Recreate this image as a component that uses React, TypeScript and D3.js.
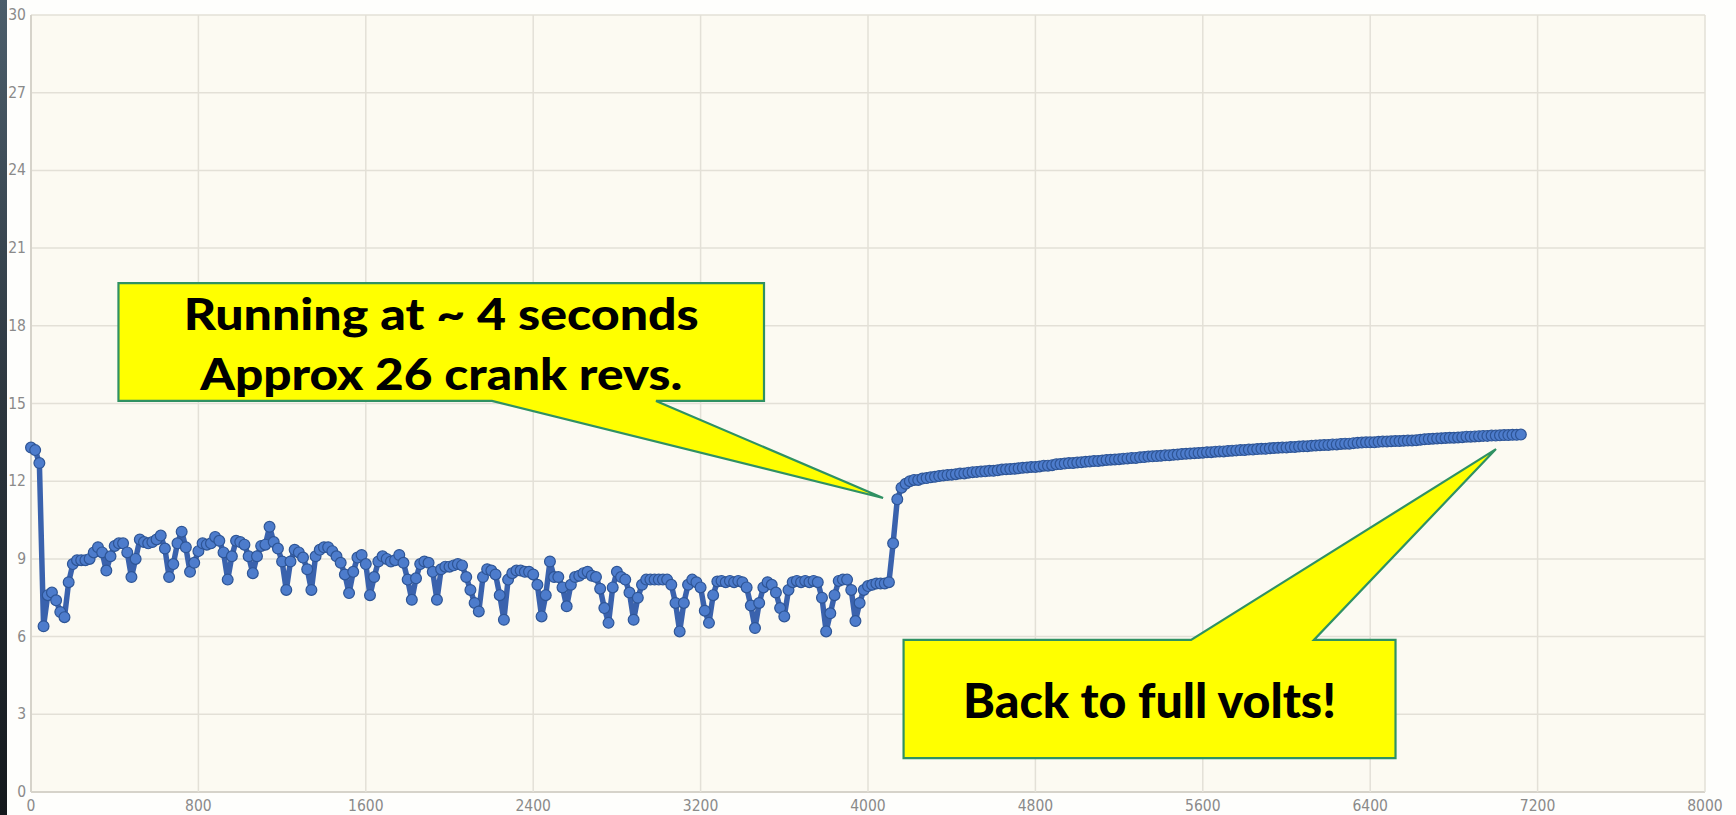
import React, { useEffect } from 'react';
import * as d3 from 'd3';

const WIDTH = 1736;
const HEIGHT = 815;

// Samples taken every 20 ms (x axis), battery volts (y axis)
const SAMPLE_STEP_MS = 20;
const VOLTS: number[] = [
  // 0 - 180
  13.3, 13.2, 12.7, 6.4, 7.6, 7.7, 7.4, 6.95, 6.75, 8.1,
  // 200 - 380
  8.8, 8.95, 8.95, 8.95, 9.0, 9.25, 9.45, 9.25, 8.55, 9.1,
  // 400 - 580
  9.5, 9.6, 9.6, 9.25, 8.3, 9.0, 9.75, 9.65, 9.6, 9.65,
  // 600 - 780
  9.75, 9.9, 9.4, 8.3, 8.8, 9.6, 10.05, 9.45, 8.5, 8.85,
  // 800 - 980
  9.3, 9.6, 9.55, 9.6, 9.85, 9.7, 9.25, 8.2, 9.1, 9.7,
  // 1000 - 1180
  9.65, 9.55, 9.1, 8.45, 9.1, 9.5, 9.55, 10.24, 9.65, 9.4,
  // 1200 - 1380
  8.9, 7.8, 8.9, 9.35, 9.25, 9.05, 8.6, 7.8, 9.1, 9.35,
  // 1400 - 1580
  9.45, 9.45, 9.3, 9.1, 8.85, 8.4, 7.68, 8.5, 9.05, 9.15,
  // 1600 - 1780
  8.8, 7.6, 8.3, 8.9, 9.1, 9.0, 8.9, 8.95, 9.15, 8.85,
  // 1800 - 1980
  8.2, 7.42, 8.25, 8.8, 8.9, 8.85, 8.5, 7.42, 8.6, 8.7,
  // 2000 - 2180
  8.7, 8.75, 8.8, 8.75, 8.3, 7.8, 7.3, 6.97, 8.3, 8.6,
  // 2200 - 2380
  8.55, 8.4, 7.6, 6.65, 8.2, 8.45, 8.55, 8.55, 8.5, 8.5,
  // 2400 - 2580
  8.4, 8.0, 6.78, 7.6, 8.9, 8.3, 8.3, 7.9, 7.17, 8.0,
  // 2600 - 2780
  8.3, 8.35, 8.45, 8.5, 8.35, 8.3, 7.85, 7.1, 6.53, 7.9,
  // 2800 - 2980
  8.5, 8.3, 8.2, 7.7, 6.65, 7.5, 8.0, 8.2, 8.2, 8.2,
  // 3000 - 3180
  8.2, 8.2, 8.2, 8.0, 7.3, 6.2, 7.3, 8.0, 8.2, 8.1,
  // 3200 - 3380
  7.9, 7.0, 6.53, 7.6, 8.13, 8.15, 8.1, 8.15, 8.1, 8.15,
  // 3400 - 3580
  8.1, 7.9, 7.2, 6.33, 7.3, 7.9, 8.1, 8.0, 7.7, 7.1,
  // 3600 - 3780
  6.78, 7.8, 8.1, 8.15, 8.1, 8.15, 8.1, 8.15, 8.1, 7.5,
  // 3800 - 3980
  6.2, 6.9, 7.6, 8.15, 8.2, 8.2, 7.8, 6.6, 7.3, 7.8,
  // 4000 - 4180
  7.95, 8.0, 8.05, 8.05, 8.05, 8.1, 9.6, 11.3, 11.75, 11.9,
  // 4200 - 4380
  12.0, 12.05, 12.05, 12.1, 12.12, 12.15, 12.17, 12.2, 12.22, 12.24,
  // 4400 - 4580
  12.25, 12.27, 12.3, 12.3, 12.33, 12.35, 12.36, 12.37, 12.38, 12.4,
  // 4600 - 4780
  12.4, 12.42, 12.45, 12.46, 12.47, 12.48, 12.5, 12.52, 12.53, 12.55,
  // 4800 - 4980
  12.55, 12.57, 12.6, 12.6, 12.62, 12.65, 12.66, 12.68, 12.7, 12.7,
  // 5000 - 5180
  12.72, 12.73, 12.75, 12.76, 12.78, 12.78, 12.8, 12.82, 12.83, 12.84,
  // 5200 - 5380
  12.85, 12.87, 12.88, 12.9, 12.9, 12.92, 12.93, 12.95, 12.96, 12.97,
  // 5400 - 5580
  12.98, 13.0, 13.0, 13.02, 13.03, 13.05, 13.06, 13.07, 13.08, 13.09,
  // 5600 - 5780
  13.1, 13.12, 13.12, 13.14, 13.15, 13.15, 13.17, 13.18, 13.19, 13.2,
  // 5800 - 5980
  13.2, 13.22, 13.22, 13.24, 13.25, 13.25, 13.27, 13.28, 13.29, 13.3,
  // 6000 - 6180
  13.3, 13.32, 13.32, 13.34, 13.35, 13.35, 13.37, 13.38, 13.39, 13.4,
  // 6200 - 6380
  13.4, 13.42, 13.42, 13.44, 13.45, 13.45, 13.47, 13.48, 13.49, 13.5,
  // 6400 - 6580
  13.5, 13.5, 13.52, 13.53, 13.53, 13.54, 13.55, 13.55, 13.56, 13.57,
  // 6600 - 6780
  13.57, 13.58, 13.6, 13.62, 13.63, 13.64, 13.65, 13.66, 13.67, 13.68,
  // 6800 - 6980
  13.68, 13.69, 13.7, 13.72, 13.72, 13.73, 13.74, 13.75, 13.75, 13.76,
  // 7000 - 7120
  13.76, 13.77, 13.78, 13.78, 13.79, 13.79, 13.8,
];

const X_TICKS = [0, 800, 1600, 2400, 3200, 4000, 4800, 5600, 6400, 7200, 8000];
const Y_TICKS = [0, 3, 6, 9, 12, 15, 18, 21, 24, 27, 30];

// Callout annotations, in data coordinates
const CALLOUT_RUNNING = {
  lines: ['Running at ~ 4 seconds', 'Approx 26 crank revs.'],
  lineLengths: [515, 482],
  box: { x0: 418, x1: 3503, yTop: 19.65, yBottom: 15.1 },
  base: [2203, 2987],
  tip: { x: 4072, y: 11.35 },
  side: 'bottom',
  fontSize: 44,
  baselines: [47, 107],
};
const CALLOUT_FULL = {
  lines: ['Back to full volts!'],
  lineLengths: [373],
  box: { x0: 4170, x1: 6521, yTop: 5.87, yBottom: 1.31 },
  base: [5544, 6131],
  tip: { x: 7001, y: 13.24 },
  side: 'top',
  fontSize: 47,
  baselines: [78],
};

const M = { left: 31, right: 1705, top: 15, bottom: 792 };

export default function App() {
  useEffect(() => {
    document.body.style.margin = '0';
    document.body.style.overflow = 'hidden';
  }, []);

  const x = d3.scaleLinear().domain([0, 8000]).range([M.left, M.right]);
  const y = d3.scaleLinear().domain([0, 30]).range([M.bottom, M.top]);

  const pts: [number, number][] = VOLTS.map((v, i) => [i * SAMPLE_STEP_MS, v]);
  const line = d3
    .line<[number, number]>()
    .x((d) => x(d[0]))
    .y((d) => y(d[1]));

  const calloutPath = (c: any) => {
    const X0 = x(c.box.x0), X1 = x(c.box.x1);
    const T = y(c.box.yTop), B = y(c.box.yBottom);
    const b0 = x(c.base[0]), b1 = x(c.base[1]);
    const tx = x(c.tip.x), ty = y(c.tip.y);
    const p = d3.path();
    if (c.side === 'bottom') {
      p.moveTo(X0, T);
      p.lineTo(X1, T);
      p.lineTo(X1, B);
      p.lineTo(b1, B);
      p.lineTo(tx, ty);
      p.lineTo(b0, B);
      p.lineTo(X0, B);
      p.closePath();
    } else {
      p.moveTo(X0, T);
      p.lineTo(b0, T);
      p.lineTo(tx, ty);
      p.lineTo(b1, T);
      p.lineTo(X1, T);
      p.lineTo(X1, B);
      p.lineTo(X0, B);
      p.closePath();
    }
    return p.toString();
  };

  const renderCallout = (c: any, key: string) => {
    const X0 = x(c.box.x0), X1 = x(c.box.x1);
    const T = y(c.box.yTop);
    const cx = (X0 + X1) / 2;
    return (
      <g key={key}>
        <path d={calloutPath(c)} fill="#ffff00" stroke="#2f9163" strokeWidth={2.2} strokeLinejoin="miter" />
        {c.lines.map((t: string, i: number) => (
          <text
            key={i}
            x={cx}
            y={T + c.baselines[i]}
            textAnchor="middle"
            fontFamily="Lato, 'DejaVu Sans', sans-serif"
            fontWeight={900}
            fontSize={c.fontSize}
            fill="#000"
            textLength={c.lineLengths[i]}
            lengthAdjust="spacingAndGlyphs"
          >
            {t}
          </text>
        ))}
      </g>
    );
  };

  const tickFont = "'Liberation Sans Narrow', 'DejaVu Sans Condensed', sans-serif";

  return (
    <svg
      width={WIDTH}
      height={HEIGHT}
      style={{ position: 'fixed', left: 0, top: 0, display: 'block' }}
    >
      <defs>
        <linearGradient id="strip" x1="0" y1="0" x2="0" y2="1">
          <stop offset="0%" stopColor="#4c5e6b" />
          <stop offset="50%" stopColor="#2c363e" />
          <stop offset="100%" stopColor="#14181c" />
        </linearGradient>
      </defs>
      <rect x={0} y={0} width={WIDTH} height={HEIGHT} fill="#fefefc" />
      <rect x={0} y={0} width={7} height={HEIGHT} fill="url(#strip)" />
      <rect
        x={M.left}
        y={M.top}
        width={M.right - M.left}
        height={M.bottom - M.top}
        fill="#fcfaf2"
      />
      {/* grid */}
      {Y_TICKS.map((t) => (
        <line
          key={'gy' + t}
          x1={M.left}
          x2={M.right}
          y1={y(t)}
          y2={y(t)}
          stroke={t === 0 ? '#d6d3ca' : '#e3e0d7'}
          strokeWidth={t === 0 ? 2 : 1.5}
        />
      ))}
      {X_TICKS.map((t) => (
        <line
          key={'gx' + t}
          x1={x(t)}
          x2={x(t)}
          y1={M.top}
          y2={M.bottom}
          stroke={t === 0 ? '#d6d3ca' : '#e3e0d7'}
          strokeWidth={t === 0 ? 2 : 1.5}
        />
      ))}
      {/* tick labels */}
      {Y_TICKS.map((t) => (
        <text
          key={'ly' + t}
          x={26}
          y={y(t)}
          textAnchor="end"
          dominantBaseline="central"
          fontFamily={tickFont}
          fontSize={15.5}
          fill="#8a8a8a"
        >
          {t}
        </text>
      ))}
      {X_TICKS.map((t) => (
        <text
          key={'lx' + t}
          x={x(t)}
          y={806}
          textAnchor="middle"
          dominantBaseline="central"
          fontFamily={tickFont}
          fontSize={15.5}
          fill="#8a8a8a"
        >
          {t}
        </text>
      ))}
      {/* series */}
      <path d={line(pts) || ''} fill="none" stroke="#3a62ad" strokeWidth={5.5} strokeLinejoin="round" />
      {pts.map((d, i) => (
        <circle
          key={i}
          cx={x(d[0])}
          cy={y(d[1])}
          r={5.4}
          fill="#4d7ccc"
          stroke="#2e5596"
          strokeWidth={1.2}
        />
      ))}
      {renderCallout(CALLOUT_RUNNING, 'c1')}
      {renderCallout(CALLOUT_FULL, 'c2')}
    </svg>
  );
}
